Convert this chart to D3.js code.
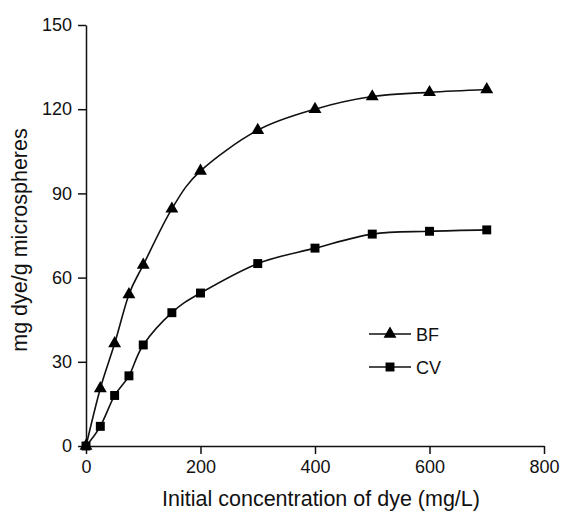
<!DOCTYPE html>
<html lang="en">
<head>
  <meta charset="UTF-8">
  <title>Adsorption</title>
  <style>
    body { margin: 0; background: #fff; }
    text { font-family: "Liberation Sans", Arial, sans-serif; fill: #111; }
  </style>
</head>
<body>
  <svg id="grafico" width="561" height="515"></svg>

  <script src="https://d3js.org/d3.v7.min.js"></script>
  <script>
    // dados
    const concentracao = [0, 25, 50, 75, 100, 150, 200, 300, 400, 500, 600, 700];
    const valoresBF = [0, 20.5, 36.5, 54, 64.5, 84.5, 98, 112.5, 120, 124.5, 126, 127];
    const valoresCV = [0, 7, 18, 25, 36, 47.5, 54.5, 65, 70.5, 75.5, 76.5, 77];
    const ticksX = [0, 200, 400, 600, 800];
    const ticksY = [0, 30, 60, 90, 120, 150];

    const svg = d3.select('#grafico');

    const x = d3.scaleLinear().domain([0, 800]).range([86, 544]);
    const y = d3.scaleLinear().domain([0, 150]).range([446, 25]);

    // eixos
    const eixoX = svg.append('g')
      .attr('transform', `translate(0,${y(0)})`)
      .call(d3.axisBottom(x).tickValues(ticksX).tickSize(8).tickSizeOuter(0).tickPadding(6));

    const eixoY = svg.append('g')
      .attr('transform', `translate(${x(0)},0)`)
      .call(d3.axisLeft(y).tickValues(ticksY).tickSize(8).tickSizeOuter(0).tickPadding(6));

    [eixoX, eixoY].forEach(g => {
      g.select('.domain').attr('stroke', '#111').attr('stroke-width', 1.5);
      g.selectAll('.tick line').attr('stroke', '#111').attr('stroke-width', 1.5);
      g.selectAll('.tick text')
        .style('font-family', '"Liberation Sans", Arial, sans-serif')
        .style('font-size', '18px')
        .attr('fill', '#111');
    });

    // títulos dos eixos
    svg.append('text')
      .attr('x', 321)
      .attr('y', 506)
      .attr('text-anchor', 'middle')
      .style('font-size', '21.5px')
      .text('Initial concentration of dye (mg/L)');

    svg.append('text')
      .attr('transform', 'translate(27,240) rotate(-90)')
      .attr('text-anchor', 'middle')
      .style('font-size', '21.5px')
      .text('mg dye/g microspheres');

    const linha = d3.line()
      .x(d => x(d[0]))
      .y(d => y(d[1]))
      .curve(d3.curveCatmullRom.alpha(0));

    const series = [
      { nome: 'BF', valores: valoresBF, simbolo: d3.symbolTriangle, tamanho: 72 },
      { nome: 'CV', valores: valoresCV, simbolo: d3.symbolSquare, tamanho: 80 }
    ];

    series.forEach(s => {
      const pontos = concentracao.map((c, i) => [c, s.valores[i]]);

      svg.append('path')
        .datum(pontos)
        .attr('d', linha)
        .attr('fill', 'none')
        .attr('stroke', '#111')
        .attr('stroke-width', 1.6);

      svg.append('g').selectAll('path')
        .data(pontos)
        .enter().append('path')
        .attr('transform', d => `translate(${x(d[0])},${y(d[1])})`)
        .attr('d', d3.symbol().type(s.simbolo).size(s.tamanho))
        .attr('fill', '#000');
    });

    // legenda
    const legenda = svg.append('g').attr('transform', 'translate(369,334)');
    series.forEach((s, i) => {
      const item = legenda.append('g').attr('transform', `translate(0,${i * 33})`);
      item.append('line')
        .attr('x1', 0).attr('x2', 42)
        .attr('stroke', '#111').attr('stroke-width', 1.5);
      item.append('path')
        .attr('transform', 'translate(21,0)')
        .attr('d', d3.symbol().type(s.simbolo).size(s.tamanho))
        .attr('fill', '#000');
      item.append('text')
        .attr('x', 47)
        .attr('y', 6.5)
        .style('font-size', '18px')
        .text(s.nome);
    });
  </script>
</body>
</html>
